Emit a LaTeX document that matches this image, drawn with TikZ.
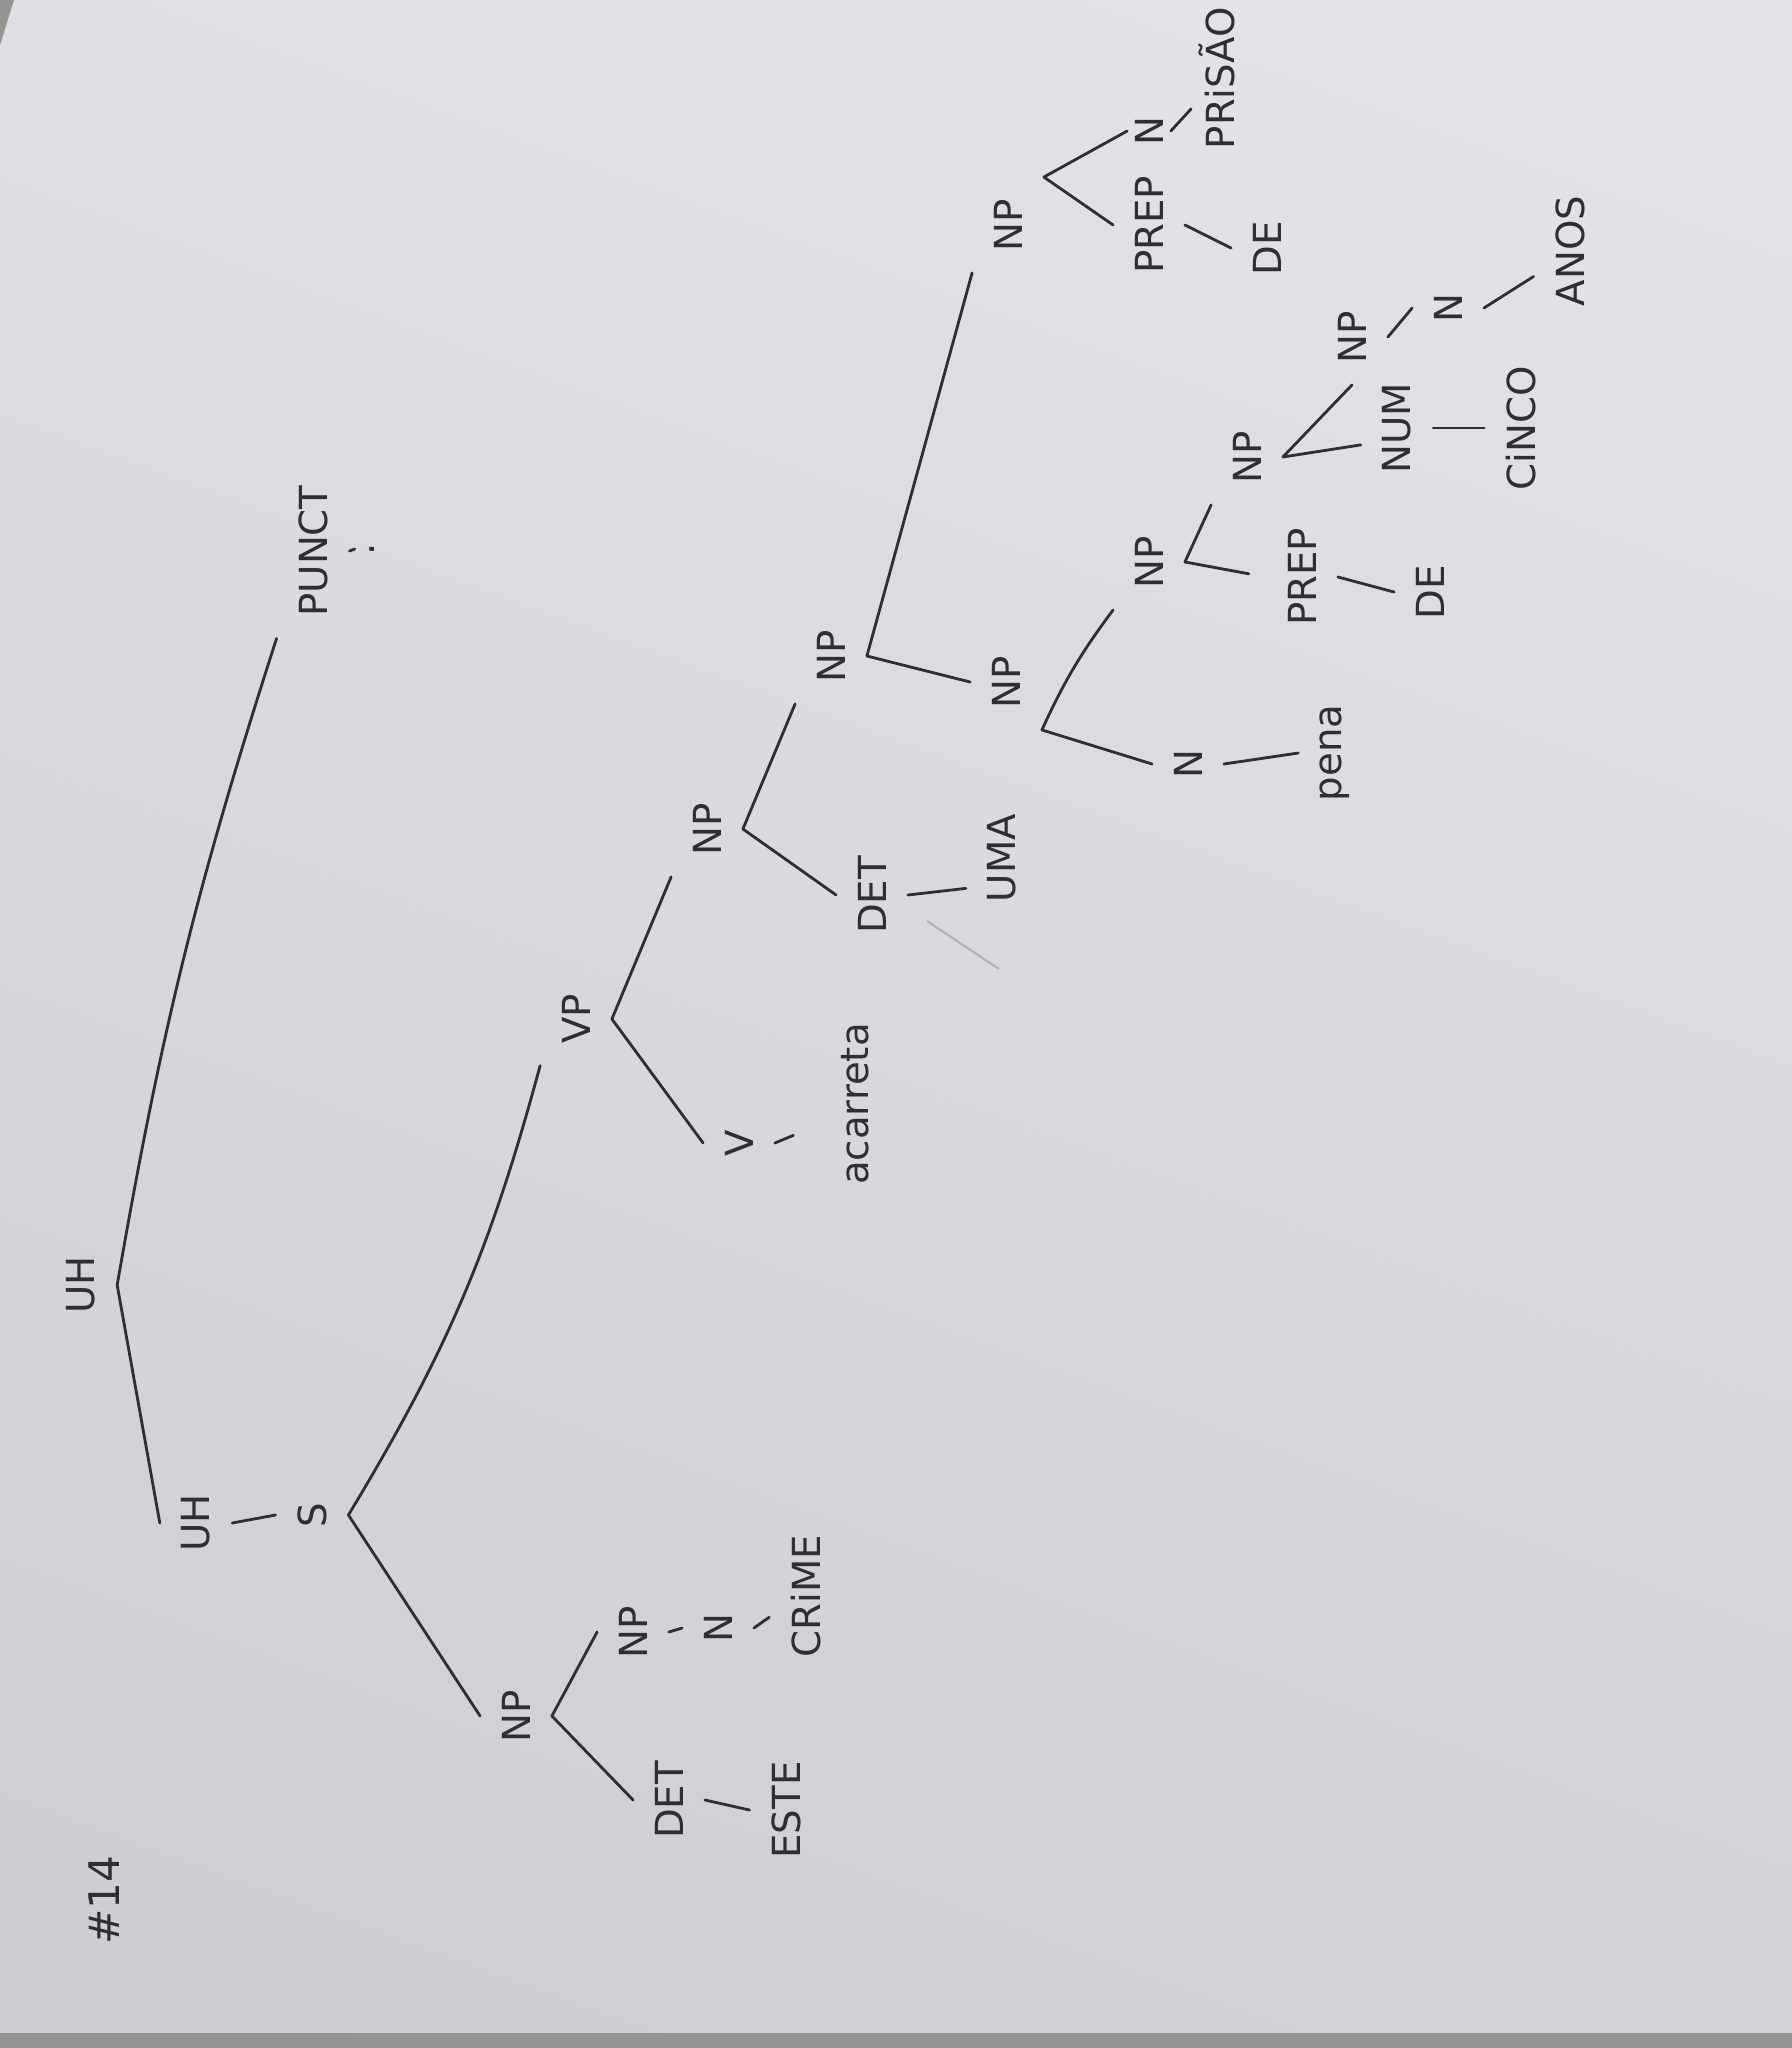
\documentclass[tikz,border=0pt]{standalone}
\usepackage{fontspec}
\newfontfamily\handfont{DejaVu Sans}
\definecolor{penInk}{RGB}{46,46,52}
\definecolor{paperTop}{RGB}{228,228,232}
\definecolor{paperBot}{RGB}{205,205,210}
\definecolor{tableGray}{RGB}{150,148,146}
\definecolor{pencilGhost}{RGB}{178,178,183}

\tikzset{
  lbl/.style={rotate=90, font=\handfont\fontsize{11}{13}\selectfont, text=penInk, inner sep=6pt},
  branch/.style={draw=penInk, line width=0.8pt, line cap=round},
}

\begin{document}
\begin{tikzpicture}[x=0.01cm, y=-0.01cm]
  \useasboundingbox (0,0) rectangle (1792,2048);
  % paper
  \shade[top color=paperTop, bottom color=paperBot, shading angle=-20] (-200,-200) rectangle (2000,2250);
  \fill[tableGray] (0,2033) rectangle (1792,2048);
  \fill[tableGray] (0,0) -- (14,0) -- (0,45) -- cycle;

  \node[lbl, font=\handfont\fontsize{12}{14}\selectfont] (tag) at (104,1900) {\#14};

  % top of the tree
  \node[lbl] (uh0) at (81,1285) {UH};
  \node[lbl] (uh1) at (196,1523) {UH};
  \node[lbl] (s) at (312,1515) {S};
  \node[lbl] (punct) at (313,551) {PUNCT};
  \node[lbl, inner sep=4pt] (dot) at (372,549) {.};

  % subject
  \node[lbl] (np0) at (516,1716) {NP};
  \node[lbl] (det0) at (669,1800) {DET};
  \node[lbl] (este) at (786,1810) {ESTE};
  \node[lbl] (np00) at (633,1632) {NP};
  \node[lbl] (n0) at (718,1628) {N};
  \node[lbl] (crime) at (806,1596) {CRiME};

  % predicate
  \node[lbl] (vp) at (576,1019) {VP};
  \node[lbl] (v) at (739,1143) {V};
  \node[lbl] (acarreta) at (855,1104) {acarreta};
  \node[lbl] (np1) at (707,829) {NP};
  \node[lbl] (det1) at (872,895) {DET};
  \node[lbl] (uma) at (1002,858) {UMA};
  \node[lbl] (np2) at (831,656) {NP};
  \node[lbl] (np3) at (1006,682) {NP};
  \node[lbl] (n1) at (1188,764) {N};
  \node[lbl] (pena) at (1335,753) {pena};
  \node[lbl] (np4) at (1149,562) {NP};
  \node[lbl] (prep0) at (1302,577) {PREP};
  \node[lbl] (de0) at (1430,592) {DE};
  \node[lbl] (np5) at (1247,457) {NP};
  \node[lbl] (num) at (1397,428) {NUM};
  \node[lbl] (cinco) at (1521,428) {CiNCO};
  \node[lbl] (np6) at (1352,337) {NP};
  \node[lbl] (n2) at (1448,308) {N};
  \node[lbl] (anos) at (1570,251) {ANOS};
  \node[lbl] (np7) at (1008,225) {NP};
  \node[lbl] (prep1) at (1149,225) {PREP};
  \node[lbl] (de1) at (1267,248) {DE};
  \node[lbl, inner sep=2pt] (n3) at (1149,131) {N};
  \node[lbl, inner sep=2pt] (prisao) at (1217,78) {PRiSÃO};

  % branches
  \draw[branch] (uh0.south) to[bend left=4] (punct.north west);
  \draw[branch] (uh0.south) -- (uh1.north);
  \draw[branch] (uh1.south) -- (s.north);
  \draw[branch] (punct.south) -- (dot.north);
  \draw[branch] (s.south) to[bend right=8] (vp.north west);
  \draw[branch] (s.south) -- (np0.north);
  \draw[branch] (np0.south) -- (det0.north);
  \draw[branch] (np0.south) -- (np00.north);
  \draw[branch] (det0.south) -- (este.north);
  \draw[branch] (np00.south) -- (n0.north);
  \draw[branch] (n0.south) -- (crime.120);
  \draw[branch] (vp.south) -- (v.north);
  \draw[branch] (vp.south) -- (np1.north west);
  \draw[branch, shorten >=8pt] (v.south) -- (acarreta.120);
  \draw[branch] (np1.south) -- (det1.north);
  \draw[branch] (np1.south) -- (np2.north west);
  \draw[branch] (det1.south) -- (uma.130);
  \draw[branch] (np2.south) -- (np3.north);
  \draw[branch] (np2.south) -- (np7.north west);
  \draw[branch] (np3.south west) -- (n1.north);
  \draw[branch] (np3.south west) to[bend left=6] (np4.north west);
  \draw[branch] (n1.south) -- (pena.north);
  \draw[branch, shorten >=5pt] (np4.south) -- (prep0.north);
  \draw[branch] (np4.south) -- (np5.north west);
  \draw[branch] (prep0.south) -- (de0.north);
  \draw[branch] (np5.south) -- (num.115);
  \draw[branch] (np5.south) -- (np6.west);
  \draw[branch] (num.south) -- (cinco.north);
  \draw[branch] (np6.south) -- (n2.north);
  \draw[branch] (n2.south) -- (anos.125);
  \draw[branch] (np7.south east) -- (prep1.north);
  \draw[branch] (np7.south east) -- (n3.north);
  \draw[branch] (prep1.south) -- (de1.north);
  \draw[branch] (n3.south) -- (prisao.140);

  % pencil trace under UMA
  \draw[pencilGhost, line width=0.6pt] (927,921) -- (999,969);
\end{tikzpicture}
\end{document}
